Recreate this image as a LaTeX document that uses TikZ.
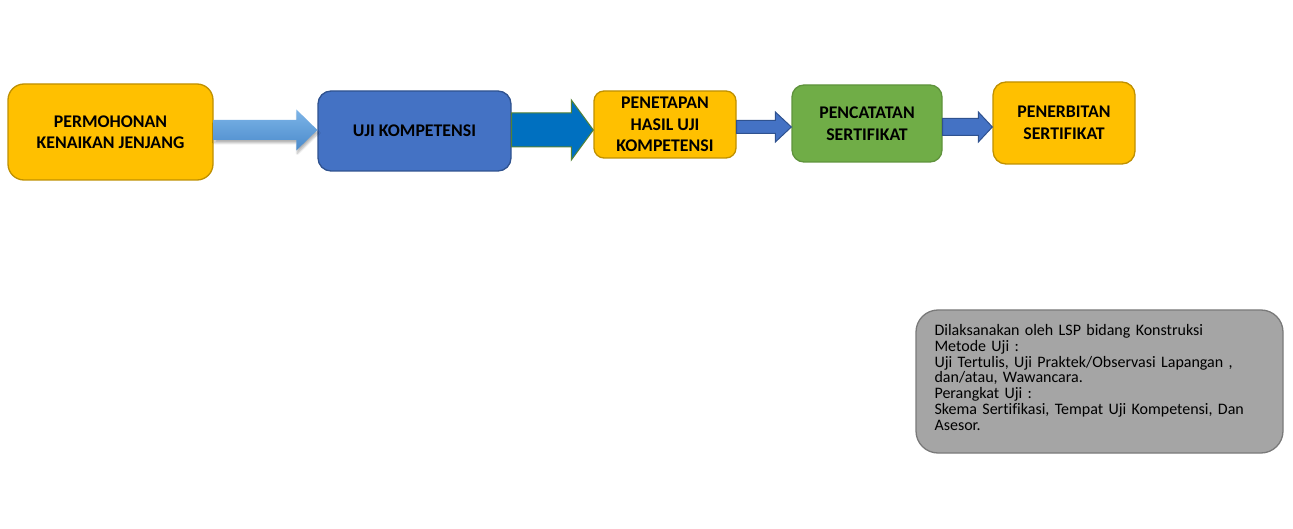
\documentclass[tikz,border=0pt]{standalone}
\usepackage{fontspec}
\setmainfont{Carlito}[Ligatures=NoCommon]
\usetikzlibrary{calc,shadows.blur}
\definecolor{cOrange}{HTML}{FFC000}
\definecolor{cOrangeB}{HTML}{BF9000}
\definecolor{cBlue}{HTML}{4472C4}
\definecolor{cBlueB}{HTML}{2F528F}
\definecolor{cGreen}{HTML}{70AD47}
\definecolor{cGreenB}{HTML}{548235}
\definecolor{cDeep}{HTML}{0070C0}
\definecolor{cGrey}{HTML}{A5A5A5}
\definecolor{cGreyB}{HTML}{7A7A7A}
\definecolor{cLightA}{HTML}{7DB5E8}
\definecolor{cLightB}{HTML}{4A8ACB}
\tikzset{
  stepbox/.style={rounded corners=#1, line width=1.3pt, align=center,
    font=\fontsize{17.8}{21.5}\selectfont\bfseries, inner sep=0pt},
  orangebox/.style={stepbox=#1, fill=cOrange, draw=cOrangeB},
  bluebox/.style={stepbox=#1, fill=cBlue, draw=cBlueB},
  greenbox/.style={stepbox=#1, fill=cGreen, draw=cGreen!85!black},
  notebox/.style={rounded corners=22pt, line width=1.3pt, fill=cGrey, draw=cGreyB,
    align=left, font=\fontsize{16}{15.8}\selectfont, inner sep=0pt},
  arrA/.style={top color=cLightA, bottom color=cLightB, draw=none,
    blur shadow={shadow xshift=1pt, shadow yshift=-3pt, shadow blur steps=8, shadow opacity=30}},
  arrB/.style={fill=cDeep, draw=cGreenB, line width=1pt},
  arrC/.style={fill=cBlue, draw=cBlueB, line width=1pt},
}
% #1 from, #2 to, #3 y centre, #4 shaft half, #5 head half, #6 head length, #7 style
\newcommand\blockarr[7]{%
  \path[#7] let \p1=(#1.east), \p2=(#2.west) in
    ({\x1},{#3pt+#4pt}) -- ({\x2-#6pt},{#3pt+#4pt}) -- ({\x2-#6pt},{#3pt+#5pt})
    -- ({\x2},{#3pt}) -- ({\x2-#6pt},{#3pt-#5pt}) -- ({\x2-#6pt},{#3pt-#4pt})
    -- ({\x1},{#3pt-#4pt}) -- cycle;}
\begin{document}
\begin{tikzpicture}[x=1pt,y=1pt]
\useasboundingbox (0,0) rectangle (1293,528);
\node[orangebox=16pt, minimum width=205pt, minimum height=96pt] (p1) at (110.5,396)
  {PERMOHONAN\\KENAIKAN JENJANG};
\node[bluebox=13pt, minimum width=193pt, minimum height=80pt] (p2) at (414.5,397)
  {UJI KOMPETENSI};
\node[orangebox=10pt, minimum width=142pt, minimum height=67pt] (p3) at (665,403.5)
  {PENETAPAN\\HASIL UJI\\KOMPETENSI};
\node[greenbox=12pt, minimum width=150pt, minimum height=77pt] (p4) at (867,404.5)
  {PENCATATAN\\SERTIFIKAT};
\node[orangebox=13pt, minimum width=142pt, minimum height=82pt] (p5) at (1064,405)
  {PENERBITAN\\SERTIFIKAT};
\blockarr{p1}{p2}{398}{10}{20.5}{21}{arrA}
\blockarr{p2}{p3}{398}{17}{30}{22}{arrB}
\blockarr{p3}{p4}{401}{6.5}{15}{16}{arrC}
\blockarr{p4}{p5}{401}{8.5}{15}{14}{arrC}
\node[notebox, minimum width=367pt, minimum height=143pt] (n) at (1099.5,146.5) {};
\node[font=\fontsize{16}{15.8}\selectfont, align=left, inner sep=0pt, text width=330pt,
  anchor=west] (nt) at ([xshift=19pt, yshift=4pt]n.west)
  {Dilaksanakan oleh LSP bidang Konstruksi\\
   Metode Uji :\\
   Uji Tertulis, Uji Praktek/Observasi Lapangan ,\\
   dan/atau, Wawancara.\\
   Perangkat Uji :\\
   Skema Sertifikasi, Tempat Uji Kompetensi, Dan\\
   Asesor.};
\end{tikzpicture}
\end{document}
